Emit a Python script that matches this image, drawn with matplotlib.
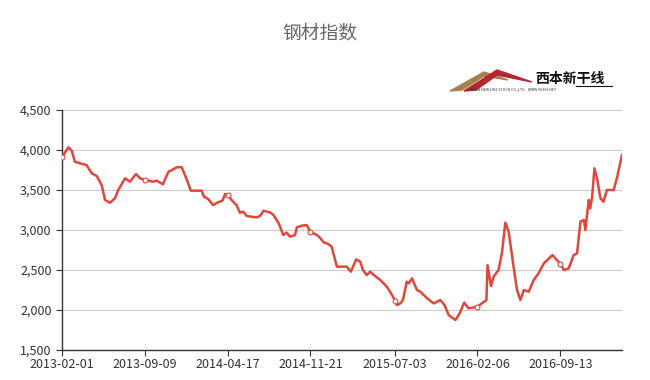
import matplotlib
matplotlib.use('Agg')
import matplotlib.pyplot as plt
from matplotlib.patches import Polygon
from matplotlib.ticker import FuncFormatter
import numpy as np

plt.rcParams['font.family'] = ['Noto Sans CJK SC', 'DejaVu Sans']

# 钢材指数
dates = [
    '2013-02-01', '2013-02-18', '2013-02-27', '2013-03-07', '2013-03-21', '2013-04-07',
    '2013-04-21', '2013-05-04', '2013-05-17', '2013-05-26', '2013-06-08', '2013-06-21',
    '2013-06-30', '2013-07-18', '2013-07-31', '2013-08-16', '2013-08-27', '2013-09-09',
    '2013-10-01', '2013-10-10', '2013-10-26', '2013-11-10', '2013-11-19', '2013-12-02',
    '2013-12-15', '2013-12-29', '2014-01-08', '2014-02-06', '2014-02-12', '2014-02-23',
    '2014-03-08', '2014-03-21', '2014-04-02', '2014-04-09', '2014-04-17', '2014-04-26',
    '2014-05-09', '2014-05-18', '2014-05-27', '2014-06-05', '2014-07-02', '2014-07-11',
    '2014-07-20', '2014-08-07', '2014-08-15', '2014-08-29', '2014-09-10', '2014-09-19',
    '2014-09-28', '2014-10-11', '2014-10-16', '2014-10-29', '2014-11-11', '2014-11-21',
    '2014-12-08', '2014-12-16', '2014-12-25', '2015-01-07', '2015-01-16', '2015-01-30',
    '2015-02-25', '2015-03-08', '2015-03-22', '2015-04-02', '2015-04-09', '2015-04-19',
    '2015-04-28', '2015-05-11', '2015-05-25', '2015-06-11', '2015-06-25', '2015-07-03',
    '2015-07-08', '2015-07-17', '2015-07-24', '2015-08-03', '2015-08-08', '2015-08-17',
    '2015-08-30', '2015-09-08', '2015-09-26', '2015-10-13', '2015-10-31', '2015-11-11',
    '2015-11-22', '2015-12-10', '2015-12-21', '2016-01-02', '2016-01-14', '2016-02-06',
    '2016-02-18', '2016-03-01', '2016-03-04', '2016-03-13', '2016-03-20', '2016-04-02',
    '2016-04-11', '2016-04-20', '2016-04-29', '2016-05-10', '2016-05-21', '2016-05-30',
    '2016-06-08', '2016-06-21', '2016-07-04', '2016-07-17', '2016-07-31', '2016-08-23',
    '2016-09-05', '2016-09-13', '2016-09-22', '2016-10-05', '2016-10-18', '2016-10-27',
    '2016-11-05', '2016-11-14', '2016-11-18', '2016-11-27', '2016-12-01', '2016-12-06',
    '2016-12-12', '2016-12-19', '2016-12-28', '2017-01-05', '2017-01-14', '2017-02-01',
    '2017-02-10', '2017-02-19', '2017-02-23',
]
values = [
    3910, 4034, 3990, 3854, 3833, 3812,
    3708, 3675, 3562, 3375, 3341, 3396,
    3500, 3646, 3604, 3700, 3646, 3625,
    3604, 3617, 3571, 3729, 3750, 3784,
    3784, 3625, 3492, 3492, 3417, 3388,
    3312, 3346, 3367, 3450, 3438, 3375,
    3312, 3217, 3229, 3175, 3158, 3179,
    3242, 3217, 3188, 3083, 2938, 2967,
    2917, 2938, 3033, 3054, 3062, 2975,
    2938, 2904, 2850, 2825, 2792, 2542,
    2542, 2479, 2633, 2604, 2500, 2437,
    2479, 2425, 2375, 2292, 2188, 2117,
    2062, 2083, 2125, 2354, 2333, 2396,
    2250, 2229, 2146, 2083, 2125, 2062,
    1937, 1875, 1958, 2092, 2021, 2042,
    2083, 2125, 2562, 2300, 2417, 2500,
    2708, 3092, 2979, 2604, 2250, 2125,
    2250, 2229, 2375, 2458, 2583, 2687,
    2617, 2575, 2500, 2521, 2687, 2708,
    3104, 3125, 3000, 3375, 3271, 3417,
    3771, 3646, 3396, 3354, 3500, 3500,
    3658, 3854, 3937,
]

tick_labels = ['2013-02-01', '2013-09-09', '2014-04-17', '2014-11-21',
               '2015-07-03', '2016-02-06', '2016-09-13']
y_ticks = [1500, 2000, 2500, 3000, 3500, 4000, 4500]

x = np.array(dates, dtype='datetime64[D]')
tick_x = np.array(tick_labels, dtype='datetime64[D]')
mark_idx = [dates.index(d) for d in tick_labels]

fig = plt.figure(figsize=(6.5, 3.8), dpi=100)
ax = fig.add_axes([0.0954, 0.0789, 0.8615, 0.6316])

ax.plot(x, values, color='#e2463b', lw=1.8, zorder=3,
        marker='o', markevery=mark_idx, markersize=3.5,
        markerfacecolor='white', markeredgecolor='#e2463b', markeredgewidth=0.8)

ax.set_xlim(x[0], x[-1])
ax.set_ylim(1500, 4500)
ax.set_yticks(y_ticks)
ax.yaxis.set_major_formatter(FuncFormatter(lambda v, p: f'{int(v):,}'))
ax.set_xticks(tick_x)
ax.set_xticklabels(tick_labels)

ax.grid(axis='y', color='#cccccc', lw=0.8)
ax.set_axisbelow(True)
for s in ['top', 'right']:
    ax.spines[s].set_visible(False)
for s in ['left', 'bottom']:
    ax.spines[s].set_color('#333333')
    ax.spines[s].set_linewidth(1.0)
ax.tick_params(axis='both', colors='#333333', labelsize=9, length=4, width=0.8)
ax.tick_params(axis='x', pad=2)

fig.text(0.492, 0.913, '钢材指数', ha='center', va='center', fontsize=13.5, color='#666666')

# logo 西本新干线
def fx(px):
    return px / 650
def fy(py):
    return 1 - py / 380
fig.patches.append(Polygon([(fx(450), fy(91)), (fx(484), fy(72)), (fx(508), fy(80)),
                            (fx(484), fy(76)), (fx(462), fy(90))],
                           closed=True, transform=fig.transFigure, color='#a58052', zorder=1))
fig.patches.append(Polygon([(fx(464), fy(91)), (fx(497), fy(70)), (fx(532), fy(82)),
                            (fx(497), fy(75)), (fx(476), fy(90))],
                           closed=True, transform=fig.transFigure, color='#b5262e', zorder=2))
fig.text(fx(535), fy(79), '西本新干线', ha='left', va='center', fontsize=10,
         fontweight='bold', style='italic', color='#111111')
fig.lines.append(plt.Line2D([fx(576), fx(612)], [fy(86), fy(86)], transform=fig.transFigure,
                            color='#111111', lw=0.8))
fig.text(fx(470), fy(89.5), 'XIBEN NEW LINE STOCK CO.,LTD.   WWW.96369.NET', ha='left', va='center',
         fontsize=2.6, color='#333333')

fig.savefig('out.png', dpi=100)
